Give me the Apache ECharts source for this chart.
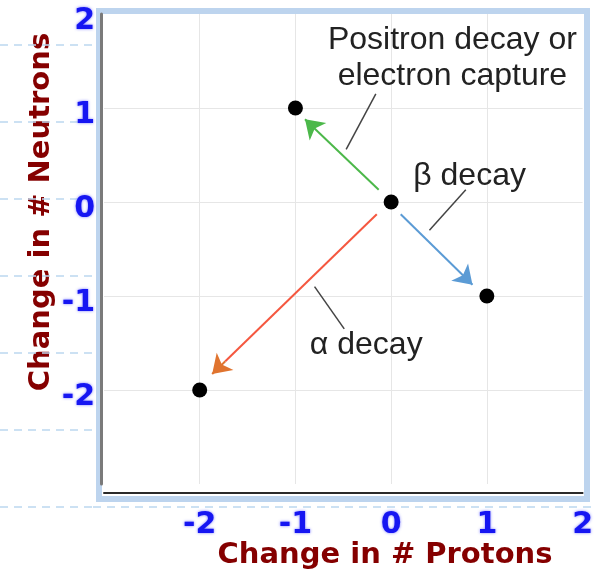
<!DOCTYPE html>
<html><head><meta charset="utf-8">
<script src="https://cdn.jsdelivr.net/npm/echarts@6/dist/echarts.min.js"></script>
<style>html,body{margin:0;padding:0;background:#fff}#c{width:596px;height:581px}</style>
</head><body><div id="c"></div>
<script>
// ---- data ----
const xTickValues = [-2, -1, 0, 1, 2];
const yTickValues = [-2, -1, 0, 1, 2];
const xRange = [-3, 2];
const yRange = [-3, 2];
const nuclidePoints = [[-1, 1], [0, 0], [1, -1], [-2, -2]];
const decayNames = ['Positron decay or electron capture', 'β decay', 'α decay'];
const decayStarts = [[-0.13, 0.13], [0.10, -0.13], [-0.15, -0.13]];
const decayEnds = [[-0.90, 0.88], [0.85, -0.88], [-1.87, -1.83]];
const decayColors = ['#4cb84a', '#5b9bd5', '#f5573f'];
const arrowHeadColors = ['#4cb84a', '#5b9bd5', '#e0742f'];
const leaderStarts = [[-0.16, 1.15], [0.78, 0.13], [-0.80, -0.90]];
const leaderEnds = [[-0.47, 0.56], [0.40, -0.30], [-0.49, -1.35]];
const annotationTexts = ['Positron decay or\nelectron capture', 'β decay', 'α decay'];
const annotationPositions = [[0.64, 1.53], [0.82, 0.27], [-0.26, -1.52]];
const xTitle = 'Change in # Protons';
const yTitle = 'Change in # Neutrons';

// ---- chart ----
const chart = echarts.init(document.getElementById('c'), null, {renderer: 'canvas'});
const blueLabel = {
  fontFamily: 'DejaVu Sans', fontWeight: 'bold', fontSize: 30, color: '#1616f2',
  textShadowColor: 'rgba(90,90,255,0.8)', textShadowBlur: 3
};
const titleStyle = {
  font: 'bold 29px "DejaVu Sans"', fill: '#850000',
  shadowColor: 'rgba(210,20,20,0.9)', shadowBlur: 3,
  align: 'center', verticalAlign: 'middle'
};
// short final segment of each arrow (for coloured heads), derived from the arrow data
const headStarts = decayStarts.map((s, i) => [
  decayEnds[i][0] - (decayEnds[i][0] - s[0]) * 0.08,
  decayEnds[i][1] - (decayEnds[i][1] - s[1]) * 0.08
]);
const option = {
  animation: false,
  backgroundColor: '#fff',
  grid: [
    {left: 104, right: 13, top: 14, bottom: 97},
    {left: 0, width: 93, top: 45, height: 462}
  ],
  xAxis: [
    {
      type: 'value', min: xRange[0], max: xRange[1], interval: 1, offset: 9,
      axisLine: {show: true, onZero: false, lineStyle: {color: '#2a2a2a', width: 2}},
      axisTick: {show: false},
      splitLine: {show: true, showMinLine: false, showMaxLine: false, lineStyle: {color: '#e6e6e6', width: 1}},
      axisLabel: Object.assign({margin: 17, formatter: v => xTickValues.includes(v) ? String(v) : ''}, blueLabel)
    },
    {gridIndex: 1, type: 'value', show: false}
  ],
  yAxis: [
    {
      type: 'value', min: yRange[0], max: yRange[1], interval: 1, offset: 3,
      axisLine: {show: true, onZero: false, lineStyle: {color: '#7a7a7a', width: 3}},
      axisTick: {show: false},
      splitLine: {show: true, showMinLine: false, showMaxLine: false, lineStyle: {color: '#e6e6e6', width: 1}},
      axisLabel: Object.assign({margin: 6, verticalAlign: 'top', lineHeight: 14,
        formatter: v => yTickValues.includes(v) ? String(v) : ''}, blueLabel)
    },
    {
      gridIndex: 1, type: 'value', min: 0, max: 6, interval: 1,
      axisLine: {show: false}, axisTick: {show: false}, axisLabel: {show: false},
      splitLine: {show: true, lineStyle: {color: '#bcd7f0', width: 1.5, type: [8, 6]}}
    }
  ],
  graphic: [
    {type: 'rect', z: -100, shape: {x: 99, y: 11, width: 488, height: 488},
     style: {fill: '#fff', stroke: '#bdd4ee', lineWidth: 6}},
    {type: 'line', shape: {x1: 93, y1: 507, x2: 596, y2: 507},
     style: {stroke: '#bcd7f0', lineWidth: 1.5, lineDash: [8, 6]}},
    {type: 'text', x: 385, y: 555, style: Object.assign({text: xTitle}, titleStyle)},
    {type: 'text', x: 41, y: 212, rotation: Math.PI / 2, style: Object.assign({text: yTitle}, titleStyle)}
  ],
  series: [
    {
      type: 'lines', coordinateSystem: 'cartesian2d', z: 3,
      symbol: ['none', 'none'],
      data: decayNames.map((n, i) => ({
        name: n, coords: [decayStarts[i], headStarts[i]],
        lineStyle: {color: decayColors[i], width: 2, opacity: 1}
      }))
    },
    {
      type: 'lines', coordinateSystem: 'cartesian2d', z: 3,
      symbol: ['none', 'arrow'], symbolSize: 18,
      data: decayNames.map((n, i) => ({
        name: n, coords: [headStarts[i], decayEnds[i]],
        lineStyle: {color: arrowHeadColors[i], width: 2, opacity: 1}
      }))
    },
    {
      type: 'lines', coordinateSystem: 'cartesian2d', z: 3,
      symbol: ['none', 'none'],
      lineStyle: {color: '#444', width: 1.5, opacity: 1},
      data: leaderStarts.map((s, i) => ({coords: [s, leaderEnds[i]]}))
    },
    {
      type: 'scatter', symbol: 'circle', symbolSize: 15, z: 4,
      itemStyle: {color: '#000', opacity: 1},
      data: nuclidePoints
    },
    {
      type: 'scatter', symbolSize: 0, z: 5, silent: true,
      itemStyle: {opacity: 1},
      data: annotationPositions.map((p, i) => ({value: p, name: annotationTexts[i]})),
      label: {
        show: true, position: 'inside', formatter: p => p.name,
        fontFamily: '"Liberation Sans", Arial', fontSize: 32, lineHeight: 36, color: '#222', align: 'center'
      }
    }
  ]
};
chart.setOption(option);
</script></body></html>
